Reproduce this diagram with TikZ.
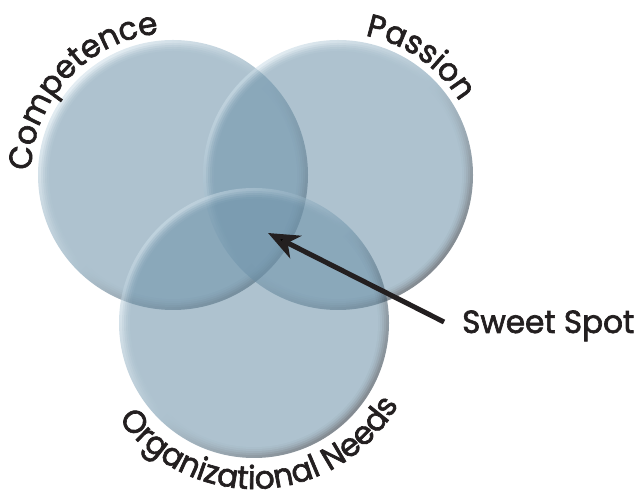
\documentclass[tikz,border=0pt]{standalone}
\usepackage{fontspec}
\setmainfont{Poppins}
\newfontfamily\labfont{Poppins}[FakeStretch=0.97, FakeBold=2]
\usetikzlibrary{decorations.text, arrows.meta, calc}
\definecolor{cbase}{RGB}{110,147,170}
\definecolor{clight}{RGB}{205,222,232}
\definecolor{cdark}{RGB}{35,48,60}
\definecolor{ink}{RGB}{35,31,32}
\newcommand{\mybubble}[1]{%
  \begin{scope}[transparency group, opacity=0.56]
    \shade[top color=clight, bottom color=cdark, middle color=cbase, shading angle=45] (#1) circle[radius=135pt];
    \fill[cbase, opacity=0.25] (#1) circle[radius=132pt];
    \fill[cbase, opacity=0.35] (#1) circle[radius=130pt];
    \fill[cbase, opacity=0.45] (#1) circle[radius=128pt];
    \fill[cbase, opacity=0.6] (#1) circle[radius=126pt];
    \fill[cbase] (#1) circle[radius=124pt];
  \end{scope}}
\tikzset{
  labeltext/.style={decorate, decoration={text along path, text align=center, text color=ink, text={#1}}},
  pointer/.style={draw=ink, line width=5pt, -{Stealth[length=31pt, width=25pt, inset=9pt]}},
}
\begin{document}
\begin{tikzpicture}[x=1pt, y=1pt]
  \useasboundingbox (0,0) rectangle (636,494);
  \coordinate (comp) at (173,319);
  \coordinate (pass) at (338,319);
  \coordinate (org) at (254,171);
  \mybubble{comp}
  \mybubble{pass}
  \mybubble{org}
  % curved labels
  \path[labeltext={|\labfont\fontsize{32}{38}\selectfont|Competence}]
    ([shift={(185:142)}]comp) arc[start angle=185, end angle=89, radius=142];
  \path[labeltext={|\labfont\fontsize{32}{38}\selectfont|Passion}]
    ([shift={(88:142)}]pass) arc[start angle=88, end angle=22, radius=142];
  \path[labeltext={|\labfont\fontsize{32}{38}\selectfont|Organizational Needs}]
    ([shift={(205:166)}]org) arc[start angle=205, end angle=341, radius=166];
  % sweet spot
  \node[anchor=base west, inner sep=0pt, text=ink, font=\labfont\fontsize{32}{38}\selectfont] (ss) at (462,161) {Sweet Spot};
  \coordinate (tail) at ([shift={(-18pt,11pt)}]ss.base west);
  \coordinate (spot) at (268,261);
  \draw[pointer] (tail) -- (spot);
\end{tikzpicture}
\end{document}
